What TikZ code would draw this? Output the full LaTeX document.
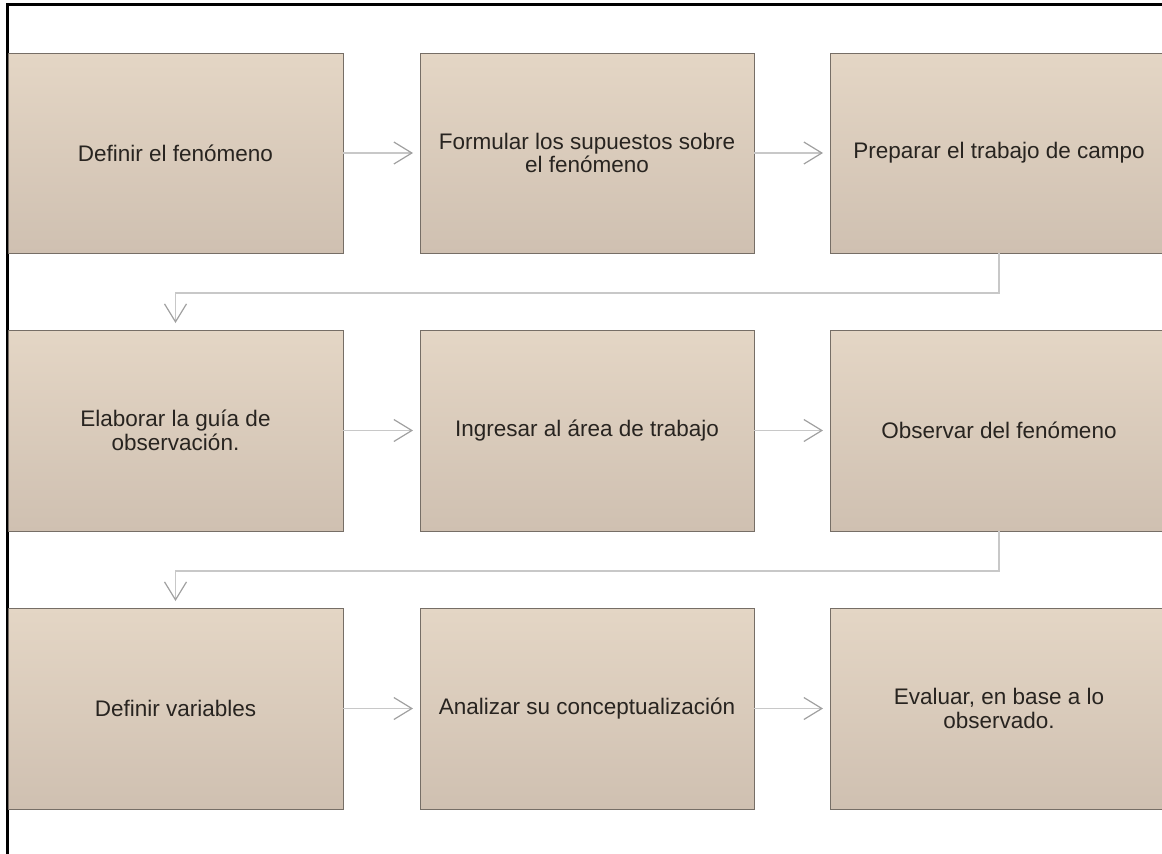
\documentclass[tikz,border=0pt]{standalone}
\usepackage{fontspec}
\setmainfont{Liberation Sans}
\usetikzlibrary{arrows.meta}
\definecolor{boxtop}{RGB}{228,214,197}
\definecolor{boxbot}{RGB}{207,192,177}
\definecolor{boxline}{RGB}{118,110,102}
\definecolor{txt}{RGB}{40,36,32}
\definecolor{connline}{RGB}{200,200,200}
\definecolor{conntip}{RGB}{160,160,160}
\tikzset{
  stepbox/.style={draw=boxline, line width=1pt, top color=boxtop, bottom color=boxbot,
    minimum width=335pt, minimum height=200pt, inner sep=0pt, outer sep=0pt,
    text=txt, font=\fontsize{22.5}{23.5}\selectfont, align=center},
  conn/.style={draw=connline, line width=1.6pt,
    -{Straight Barb[length=18pt,width=22pt,line width=1.2pt,color=conntip]},
    shorten >=7pt},
}
\begin{document}
\begin{tikzpicture}[x=1pt,y=-1pt]
\useasboundingbox (0,0) rectangle (1162,854);
\begin{scope}
\clip (0,0) rectangle (1162,854);
% frame (top and left only)
\draw[line width=3pt, black] (7,854) -- (7,4) -- (1162,4);
% boxes
\node[stepbox] (b1) at (175.5,153) {Definir el fenómeno};
\node[stepbox, minimum width=334pt] (b2) at (587,153) {Formular los supuestos sobre\\el fenómeno};
\node[stepbox, minimum width=338pt] (b3) at (999,153) {Preparar el trabajo de campo};
\node[stepbox, minimum height=201pt] (b4) at (175.5,430.5) {Elaborar la guía de\\observación.};
\node[stepbox, minimum width=334pt, minimum height=201pt] (b5) at (587,430.5) {Ingresar al área de trabajo};
\node[stepbox, minimum width=338pt, minimum height=201pt] (b6) at (999,430.5) {Observar del fenómeno};
\node[stepbox, minimum height=201pt] (b7) at (175.5,708.5) {Definir variables};
\node[stepbox, minimum width=334pt, minimum height=201pt] (b8) at (587,708.5) {Analizar su conceptualización};
\node[stepbox, minimum width=338pt, minimum height=201pt] (b9) at (999,708.5) {Evaluar, en base a lo\\observado.};
% connectors
\draw[conn] (b1) -- (b2);
\draw[conn] (b2) -- (b3);
\draw[conn] (b4) -- (b5);
\draw[conn] (b5) -- (b6);
\draw[conn] (b7) -- (b8);
\draw[conn] (b8) -- (b9);
\coordinate (k1) at (175.5,293);
\coordinate (k2) at (175.5,571);
\draw[conn] (b3.south) |- (k1) -- (b4.north);
\draw[conn] (b6.south) |- (k2) -- (b7.north);
\end{scope}
\end{tikzpicture}
\end{document}
